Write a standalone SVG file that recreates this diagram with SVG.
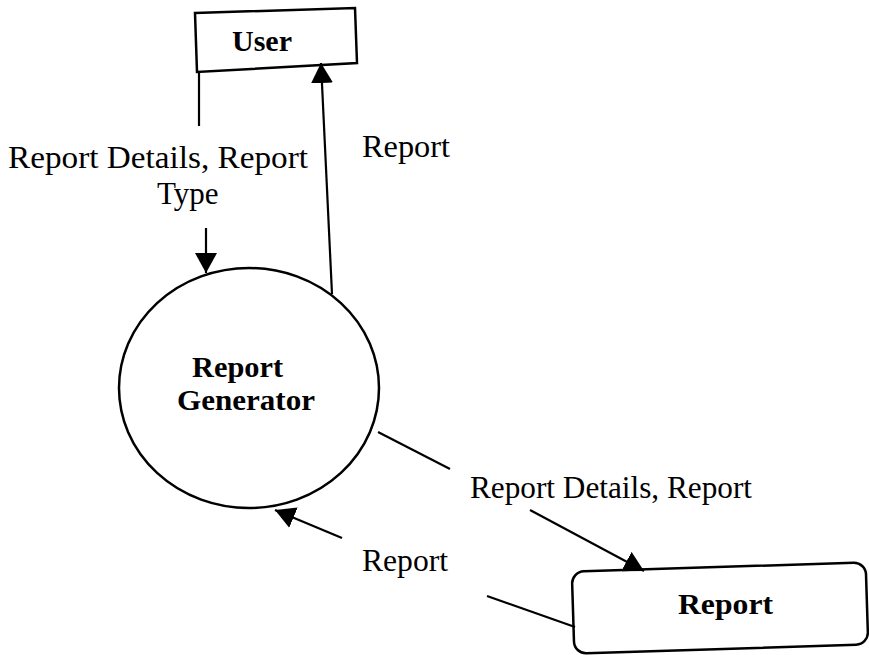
<svg xmlns="http://www.w3.org/2000/svg" width="869" height="655" viewBox="0 0 869 655">
  <style>
    .shape { fill: #ffffff; stroke: #000000; stroke-width: 2.5; }
    .flow { fill: none; stroke: #000000; stroke-width: 2.2; }
    .label { font-family: "Liberation Serif", "Times New Roman", serif; font-size: 31px; fill: #000000; }
    .title { font-family: "Liberation Serif", "Times New Roman", serif; font-size: 30px; font-weight: bold; fill: #000000; }
  </style>
  <defs>
    <marker id="head" viewBox="0 0 20 22" refX="20" refY="11" markerWidth="20" markerHeight="22" markerUnits="userSpaceOnUse" orient="auto">
      <path d="M0,0 L20,11 L0,22 Z" fill="#000000"/>
    </marker>
  </defs>
  <rect width="869" height="655" fill="#ffffff"/>

  <!-- external entity: User -->
  <g id="user">
    <polygon class="shape" points="195,13 355,8 357,63 197,72"/>
    <text class="title" x="232" y="51" textLength="60" lengthAdjust="spacingAndGlyphs">User</text>
  </g>

  <!-- process: Report Generator -->
  <g id="report-generator">
    <ellipse class="shape" cx="249" cy="388" rx="130" ry="120"/>
    <text class="title" x="192" y="377" textLength="91" lengthAdjust="spacingAndGlyphs">Report</text>
    <text class="title" x="177" y="410" textLength="138" lengthAdjust="spacingAndGlyphs">Generator</text>
  </g>

  <!-- data store: Report -->
  <g id="report-store">
    <rect class="shape" x="573" y="567" width="294" height="82" rx="12" transform="rotate(-1.8 720 608)"/>
    <text class="title" x="678" y="614" textLength="95" lengthAdjust="spacingAndGlyphs">Report</text>
  </g>

  <!-- data flows -->
  <g id="connectors">
    <line class="flow" x1="199" y1="72" x2="199" y2="126"/>
    <line class="flow" x1="206" y1="228" x2="206" y2="273" marker-end="url(#head)"/>
    <line class="flow" x1="332" y1="294" x2="321" y2="63" marker-end="url(#head)"/>
    <line class="flow" x1="378" y1="432" x2="450" y2="469"/>
    <line class="flow" x1="530" y1="510" x2="644" y2="571" marker-end="url(#head)"/>
    <line class="flow" x1="487" y1="596" x2="575" y2="627"/>
    <line class="flow" x1="342" y1="538" x2="275" y2="510" marker-end="url(#head)"/>
  </g>

  <!-- flow labels -->
  <g id="labels">
    <text class="label" x="8" y="168" textLength="300" lengthAdjust="spacingAndGlyphs">Report Details, Report</text>
    <text class="label" x="157" y="204">Type</text>
    <text class="label" x="362" y="157" textLength="88" lengthAdjust="spacingAndGlyphs">Report</text>
    <text class="label" x="470" y="498" textLength="282" lengthAdjust="spacingAndGlyphs">Report Details, Report</text>
    <text class="label" x="362" y="571" textLength="86" lengthAdjust="spacingAndGlyphs">Report</text>
  </g>
</svg>
